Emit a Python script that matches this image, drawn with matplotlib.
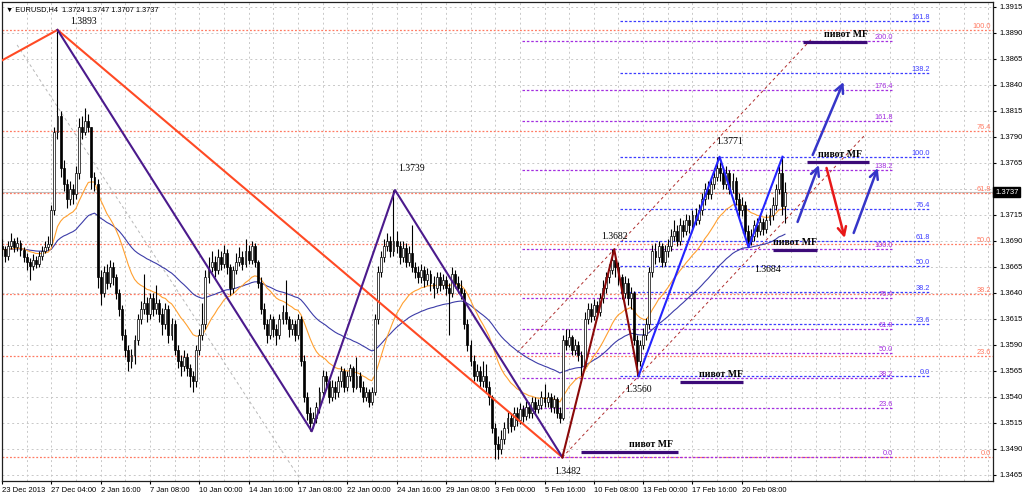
import matplotlib.pyplot as plt
import numpy as np
import pandas as pd
from matplotlib.transforms import blended_transform_factory

plt.rcParams["font.family"] = ["Liberation Sans", "DejaVu Sans"]

BASE = 1.3400  # candle values below are pips above this

# EURUSD H4, 23 Dec 2013 .. 21 Feb 2014; each bar opens at the previous close
first_open = 285
closes = [
    282, 276, 285, 290, 284, 288, 281, 275, 270, 266, 272, 268, 276, 280, 284, 287,
    320, 395, 410, 360, 345, 330, 340, 335, 355, 400, 395, 405, 400,
    352, 345, 255, 240, 260, 250, 265, 255, 240, 225, 200, 185,
    175, 180, 195, 215, 225, 230, 220, 235, 225, 230, 220, 210, 225, 200, 210,
    185, 175, 170, 178, 168, 160, 155, 185, 200, 210,
    255, 265, 270, 262, 275, 268, 278, 265, 245, 262, 270, 275, 268, 280, 272, 285, 270, 250,
    225, 210, 200, 215, 205, 200, 215, 222, 215, 205, 210, 200, 215,
    175, 140, 125, 115, 120, 130, 145, 160, 155, 140, 150, 145, 155, 165, 150, 160, 168, 150,
    160, 150, 140, 145, 135, 145,
    215, 260, 275, 285, 290, 280, 290, 285, 275, 283, 270, 278, 265,
    260, 255, 262, 252, 258, 250, 245, 255, 248, 252, 245, 240, 258, 250, 245, 240,
    210, 190, 175, 160, 165, 155, 160, 150, 140, 110, 95, 90, 100,
    110, 120, 112, 125, 118, 128, 122, 130, 125, 135, 128, 132, 140, 135, 140, 130, 138, 125, 120,
    195, 190, 198, 185, 190, 180, 170, 215, 225, 218, 228, 222, 235, 245, 255, 262, 272, 265,
    255, 240, 250, 235, 240, 195, 175, 190, 200, 210,
    260, 280, 275, 285, 270, 280, 285, 295, 300, 290, 305, 300, 310, 305, 315, 310, 320, 330,
    340, 335, 345, 352, 360, 355,
    345, 355, 340, 348, 330, 320, 325, 300, 290, 295, 305, 300, 308, 302, 310, 315, 325, 340,
    355, 324, 337,
]
highs = [
    292, 285, 290, 298, 293, 294, 291, 284, 278, 274, 277, 276, 280, 285, 290, 295,
    325, 400, 492, 415, 368, 350, 348, 345, 362, 408, 410, 418, 412,
    400, 356, 350, 262, 266, 268, 272, 270, 258, 244, 228, 205,
    190, 186, 200, 220, 232, 258, 236, 240, 240, 248, 234, 226, 230, 228, 216,
    214, 190, 180, 185, 182, 172, 165, 190, 205, 230,
    262, 275, 280, 276, 282, 280, 286, 282, 268, 266, 278, 284, 280, 292, 286, 290, 288, 272,
    255, 230, 215, 220, 218, 210, 220, 228, 252, 218, 215, 214, 220,
    218, 180, 145, 130, 126, 135, 150, 166, 165, 158, 156, 155, 160, 170, 168, 165, 172, 170,
    178, 164, 155, 150, 148, 150,
    220, 266, 280, 292, 298, 295, 339, 300, 290, 290, 288, 285, 305,
    270, 266, 268, 266, 264, 262, 256, 260, 260, 258, 256, 250, 265, 262, 256, 252,
    244, 215, 195, 180, 172, 170, 175, 172, 155, 142, 115, 102, 108,
    116, 126, 125, 130, 130, 134, 132, 136, 135, 140, 140, 138, 146, 152, 145, 144, 142, 140, 130,
    200, 205, 205, 200, 196, 194, 184, 222, 230, 230, 234, 232, 240, 252, 260, 268, 282, 276,
    270, 258, 256, 254, 246, 242, 200, 195, 206, 216,
    265, 286, 288, 290, 288, 286, 292, 302, 310, 305, 312, 310, 316, 315, 320, 322, 326, 336,
    346, 348, 352, 360, 371, 366,
    360, 362, 358, 355, 352, 336, 332, 328, 305, 302, 310, 312, 314, 312, 316, 322, 332, 345,
    362, 371, 347,
]
lows = [
    276, 270, 272, 282, 279, 280, 276, 270, 262, 252, 262, 264, 265, 272, 278, 281,
    285, 315, 388, 352, 338, 322, 325, 326, 330, 350, 388, 392, 395,
    340, 338, 245, 228, 236, 244, 246, 248, 234, 218, 195, 178,
    165, 168, 172, 190, 210, 220, 212, 215, 218, 220, 212, 200, 205, 192, 195,
    180, 168, 160, 165, 160, 150, 145, 150, 180, 195,
    205, 250, 260, 255, 258, 262, 264, 258, 238, 240, 258, 266, 262, 265, 268, 268, 265, 245,
    220, 205, 192, 196, 198, 190, 196, 210, 210, 198, 200, 194, 196,
    170, 135, 118, 107, 110, 115, 125, 140, 148, 134, 136, 138, 140, 150, 145, 146, 155, 145,
    148, 145, 135, 136, 130, 132,
    142, 210, 255, 270, 280, 275, 276, 278, 268, 270, 265, 266, 260,
    254, 250, 250, 246, 248, 242, 235, 240, 242, 244, 238, 200, 236, 245, 240, 234,
    205, 184, 170, 155, 155, 150, 150, 145, 132, 105, 80, 80, 85,
    95, 105, 106, 108, 112, 114, 116, 118, 120, 120, 124, 125, 128, 130, 130, 126, 125, 120, 115,
    118, 185, 188, 180, 180, 175, 160, 168, 210, 212, 214, 216, 218, 230, 240, 250, 258, 255,
    248, 234, 235, 228, 225, 190, 160, 170, 186, 195,
    205, 255, 268, 270, 265, 266, 275, 280, 290, 285, 286, 294, 296, 298, 300, 305, 306, 315,
    325, 330, 330, 340, 348, 348,
    340, 340, 335, 336, 325, 312, 314, 294, 284, 286, 290, 294, 296, 296, 298, 305, 310, 320,
    335, 315, 307,
]

x_labels = ["23 Dec 2013", "27 Dec 04:00", "2 Jan 16:00", "7 Jan 08:00", "10 Jan 00:00",
            "14 Jan 16:00", "17 Jan 08:00", "22 Jan 00:00", "24 Jan 16:00", "29 Jan 08:00",
            "3 Feb 00:00", "5 Feb 16:00", "10 Feb 08:00", "13 Feb 00:00", "17 Feb 16:00",
            "20 Feb 08:00"]
price_ticks = [1.3465, 1.3490, 1.3515, 1.3540, 1.3565, 1.3590, 1.3615, 1.3640, 1.3665, 1.3690,
               1.3715, 1.3740, 1.3765, 1.3790, 1.3815, 1.3840, 1.3865, 1.3890, 1.3915]
last_price = 1.3737
header = "EURUSD,H4  1.3724 1.3747 1.3707 1.3737"

# swing lines: bar positions and prices
zz_orange_x = [-1.0, 18.0, 181.8]
zz_orange_y = [1.3862, 1.3893, 1.3482]
zz_purple_x = [18.0, 100.5, 127.5, 181.8]
zz_purple_y = [1.3893, 1.3507, 1.3739, 1.3482]
zz_maroon_x = [181.8, 198.6, 206.5]
zz_maroon_y = [1.3482, 1.3682, 1.3560]
zz_blue_x = [206.5, 232.8, 242.2, 253.2]
zz_blue_y = [1.3560, 1.3771, 1.3684, 1.3771]

swing_text = ["1.3893", "1.3739", "1.3682", "1.3560", "1.3482", "1.3771", "1.3684"]
swing_x = [18.0, 127.5, 198.6, 206.5, 181.8, 232.8, 242.2]
swing_y = [1.3893, 1.3739, 1.3682, 1.3560, 1.3482, 1.3771, 1.3684]
swing_off = [(19, 3), (12, 12), (0, 6), (0, -6), (4, -7), (7, 8), (14, -13)]

# fibonacci grids
fib_levels_a = [0.0, 23.6, 38.2, 50.0, 61.8, 76.4, 100.0]
fib_levels_b = [0.0, 23.6, 38.2, 50.0, 61.8, 76.4, 100.0, 138.2, 161.8, 176.4, 200.0]
fib_levels_c = [0.0, 23.6, 38.2, 50.0, 61.8, 76.4, 100.0, 138.2, 161.8]

# pivot MF marks: start bar, end bar, price
pivot_x0 = [259.7, 261.0, 250.0, 219.8, 187.7]
pivot_x1 = [280.5, 281.2, 264.3, 240.3, 219.2]
pivot_y = [1.38813, 1.37660, 1.36813, 1.35544, 1.34871]
pivot_dx = [8, 2, 0, 7, 16]

# forecast arrows: (bar, price) -> (bar, price)
arrows = [
    ((258.1, 1.37083), (265.0, 1.37631), "#3535c8"),
    ((263.0, 1.37727), (273.0, 1.38429), "#3535c8"),
    ((267.5, 1.37602), (273.4, 1.36929), "#e81818"),
    ((276.3, 1.36977), (284.1, 1.37602), "#3535c8"),
]

opens = np.array([first_open] + closes[:-1]) / 1e4 + BASE
c = np.array(closes) / 1e4 + BASE
h = np.array(highs) / 1e4 + BASE
l = np.array(lows) / 1e4 + BASE
bars = np.arange(len(c))

fig = plt.figure(figsize=(10.24, 4.95), dpi=100)
ax = fig.add_axes([2 / 1024, 14 / 495, 991 / 1024, 479 / 495])
ax.set_xlim(0, 321.5)
ax.set_ylim(1.34592, 1.39198)

# grid
for gx in range(8, 322, 8):
    ax.axvline(gx, color="#c8c8c8", lw=0.7, ls=(0, (2, 3)), zorder=0)
for gy in price_ticks:
    ax.axhline(gy, color="#c8c8c8", lw=0.7, ls=(0, (2, 3)), zorder=0)

ax.axhline(last_price, color="#c0c0c0", lw=0.8, zorder=1)

# helper lines
ax.plot([4.9, 96.8], [1.38785, 1.34608], color="#b8b8b8", lw=0.7, ls=(0, (3, 3)), zorder=1)
slope = (zz_maroon_y[2] - zz_maroon_y[0]) / (zz_maroon_x[2] - zz_maroon_x[0])
for bx0, bx1, anchor_x, anchor_y in [(167.2, 262.5, zz_maroon_x[1], zz_maroon_y[1]),
                                     (181.8, 280.0, zz_maroon_x[0], zz_maroon_y[0])]:
    xs = np.array([bx0, bx1])
    ax.plot(xs, anchor_y + slope * (xs - anchor_x), color="#b03030", lw=0.7,
            ls=(0, (3, 3)), zorder=1)

# fibo A: full width, salmon
hi, lo = 1.3893, 1.3482
for lv in fib_levels_a:
    y = lo + (hi - lo) * lv / 100
    ax.axhline(y, color="#ff7a62", lw=0.9, ls=(0, (1.5, 1.5)), zorder=1)
    ax.text(320.8, y, f"{lv:.1f}", color="#ff7a62", fontsize=5.3, ha="right", va="bottom")

# fibo B: purple
lo_b, hi_b = 1.3482, 1.3682
for lv in fib_levels_b:
    y = lo_b + (hi_b - lo_b) * lv / 100
    ax.plot([168.8, 289.0], [y, y], color="#a32ee0", lw=0.9, ls=(0, (2, 1.5)), zorder=1)
    ax.text(289.0, y, f"{lv:.1f}", color="#a32ee0", fontsize=5.3, ha="right", va="bottom")

# fibo C: blue
lo_c, hi_c = 1.3560, 1.3771
for lv in fib_levels_c:
    y = lo_c + (hi_c - lo_c) * lv / 100
    ax.plot([200.6, 301.0], [y, y], color="#3c3cff", lw=0.9, ls=(0, (2, 1.5)), zorder=1)
    ax.text(301.0, y, f"{lv:.1f}", color="#3c3cff", fontsize=5.3, ha="right", va="bottom")

# moving averages
s = pd.Series(c)
ax.plot(bars, s.ewm(span=55, adjust=False).mean(), color="#3c3ca8", lw=0.8, zorder=3)
ax.plot(bars, s.ewm(span=21, adjust=False).mean(), color="#ffa030", lw=0.8, zorder=3)

# candles
ax.vlines(bars, np.minimum(l, np.minimum(opens, c)), np.maximum(h, np.maximum(opens, c)),
          color="black", lw=0.8, zorder=4)
up = c >= opens
body_lo = np.minimum(opens, c)
body_h = np.maximum(np.abs(c - opens), 0.00008)
ax.bar(bars[up], body_h[up], bottom=body_lo[up], width=0.62, color="white",
       edgecolor="black", linewidth=0.5, zorder=5)
ax.bar(bars[~up], body_h[~up], bottom=body_lo[~up], width=0.62, color="black",
       edgecolor="black", linewidth=0.5, zorder=5)

# swing lines
ax.plot(zz_orange_x, zz_orange_y, color="#ff4a24", lw=1.5, zorder=6)
ax.plot(zz_purple_x, zz_purple_y, color="#4b1a8c", lw=1.5, zorder=6)
ax.plot(zz_maroon_x, zz_maroon_y, color="#8b0a0a", lw=1.5, zorder=6)
ax.plot(zz_blue_x, zz_blue_y, color="#2424ff", lw=1.5, zorder=6)

for txt, sx, sy, off in zip(swing_text, swing_x, swing_y, swing_off):
    ax.annotate(txt, (sx, sy), xytext=off, textcoords="offset points",
                ha="center", va="bottom" if off[1] > 0 else "top",
                fontsize=7, family="Liberation Serif", zorder=7)

for x0, x1, py, dx in zip(pivot_x0, pivot_x1, pivot_y, pivot_dx):
    ax.plot([x0, x1], [py, py], color="#3c0a78", lw=2.3, solid_capstyle="butt", zorder=7)
    ax.annotate("пивот MF", ((x0 + x1) / 2, py), xytext=(dx, 2), textcoords="offset points",
                ha="center", va="bottom", fontsize=7, family="Liberation Serif",
                fontweight="bold", zorder=7)

for (ax0, ay0), (ax1, ay1), col in arrows:
    ax.annotate("", xy=(ax1, ay1), xytext=(ax0, ay0),
                arrowprops=dict(arrowstyle="->,head_length=0.6,head_width=0.3",
                                color=col, lw=1.8, shrinkA=0, shrinkB=0), zorder=8)

# axes, ticks
for sp in ax.spines.values():
    sp.set_color("#202020")
    sp.set_linewidth(0.9)
ax.yaxis.tick_right()
ax.set_yticks(price_ticks)
# the 1.3740 label sits under the last-price box
ax.set_yticklabels(["" if abs(p - last_price) < 0.001 else f"{p:.4f}" for p in price_ticks])
ax.set_xticks(range(0, 16 * len(x_labels), 16))
ax.set_xticklabels(x_labels, ha="left")
ax.tick_params(axis="y", labelsize=5.5, length=2.5, pad=2)
ax.tick_params(axis="x", labelsize=5.5, length=2.5, pad=2)

tr = blended_transform_factory(ax.transAxes, ax.transData)
ax.text(1.002, last_price, f"{last_price:.4f}", transform=tr, color="white", fontsize=5.5,
        va="center", ha="left", zorder=10,
        bbox=dict(boxstyle="square,pad=0.2", fc="black", ec="black"))

ax.text(0.004, 0.992, "\u25bc " + header, transform=ax.transAxes, fontsize=5.3,
        va="top", ha="left", zorder=10)

fig.savefig("out.png", dpi=100)
